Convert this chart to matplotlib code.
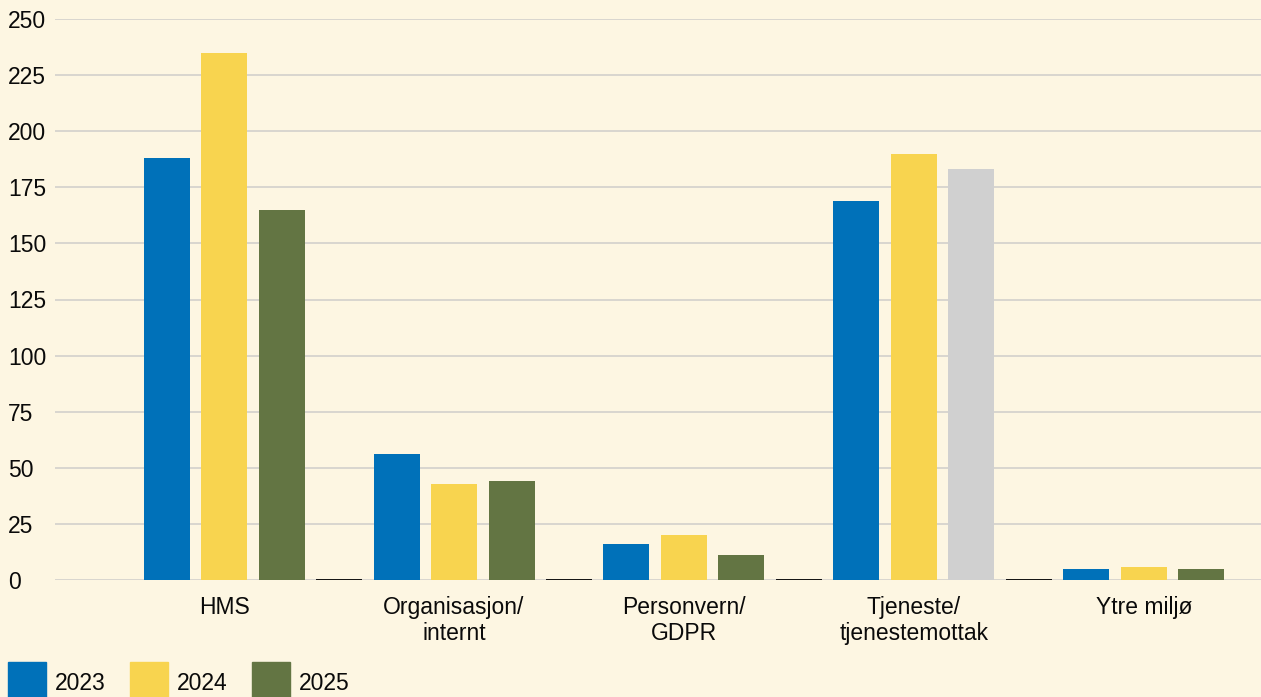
import matplotlib
matplotlib.use("Agg")
import matplotlib.pyplot as plt
from matplotlib.patches import Rectangle
import numpy as np

plt.rcParams['font.family'] = ['Liberation Sans', 'DejaVu Sans']

categories = ["HMS", "Organisasjon/\ninternt", "Personvern/\nGDPR", "Tjeneste/\ntjenestemottak", "Ytre miljø"]
series_names = ["2023", "2024", "2025"]
v2023 = [188, 56, 16, 169, 5]
v2024 = [235, 43, 20, 190, 6]
v2025 = [165, 44, 11, 183, 5]
v_extra = [0, 0, 0, 0, None]
yticks = [0, 25, 50, 75, 100, 125, 150, 175, 200, 225, 250]

bg = "#fdf6e2"
c_blue = "#0071b9"
c_yellow = "#f8d44f"
c_green = "#637543"
c_grey = "#d0d0d0"
txt = "#0a0a0a"
fs = 16.5

W, H = 1261, 697
fig = plt.figure(figsize=(W / 100, H / 100), dpi=100, facecolor=bg)
ax = fig.add_axes([55 / W, (H - 580) / H, (W - 55) / W, 561 / H])
ax.set_facecolor(bg)

x = np.arange(len(categories))
bw = 0.2
step = 0.25
ax.bar(x - step, v2023, bw, color=c_blue, zorder=3)
ax.bar(x, v2024, bw, color=c_yellow, zorder=3)
green_colors = [c_green] * len(categories)
green_colors[3] = c_grey
ax.bar(x + step, v2025, bw, color=green_colors, zorder=3)
for xi, v in zip(x + 2 * step, v_extra):
    if v is None:
        continue
    ax.hlines(v, xi - bw / 2, xi + bw / 2, color="#111111", lw=1.4, zorder=4)

ax.set_xlim(-0.735, 4.509)
ax.set_ylim(0, 250)
ax.set_yticks(yticks)
ax.set_yticklabels([str(t) for t in yticks], ha="left")
ax.tick_params(axis="y", length=0, pad=33.8, labelsize=fs, labelcolor=txt)
ax.set_xticks(x)
ax.set_xticklabels(categories, linespacing=1.18)
ax.tick_params(axis="x", length=0, pad=11.5, labelsize=fs, labelcolor=txt)
ax.grid(axis="y", color="#d6d3cd", lw=1.3, zorder=0)
ax.set_axisbelow(True)
for s in ax.spines.values():
    s.set_visible(False)

# legend
leg_colors = [c_blue, c_yellow, c_green]
for i, (name, col) in enumerate(zip(series_names, leg_colors)):
    x0 = 8 + i * 122
    fig.patches.append(Rectangle((x0 / W, (H - 700) / H), 38 / W, 38 / H,
                                 transform=fig.transFigure, color=col))
    fig.text((x0 + 47) / W, (H - 684) / H, name, fontsize=fs, color=txt,
             ha="left", va="center")

fig.savefig("out.png", dpi=100, facecolor=bg)
